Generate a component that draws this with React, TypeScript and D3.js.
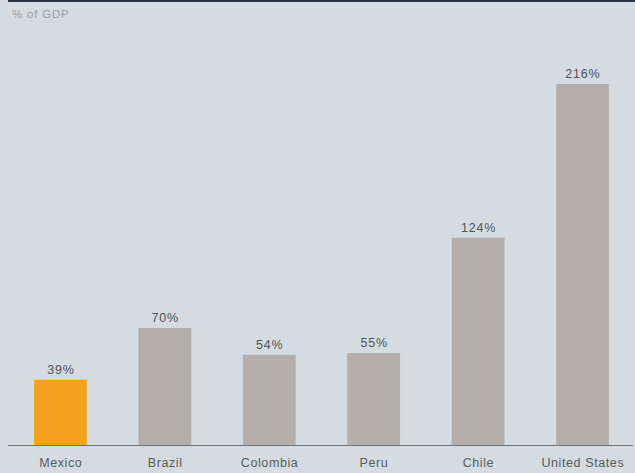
import React from "react";
import * as d3 from "d3";

const categories = ["Mexico", "Brazil", "Colombia", "Peru", "Chile", "United States"];
const values = [39, 70, 54, 55, 124, 216];
const highlight = "Mexico";

const W = 635;
const H = 473;
const baseY = 445;

export default function App() {
  const x = d3.scaleBand<string>().domain(categories).range([8, 635]).paddingInner(0.495).paddingOuter(0.25);
  const y = d3.scaleLinear().domain([0, 216]).range([baseY, 84]);
  const font = "'Liberation Sans', Arial, sans-serif";
  return (
    <div style={{ position: "absolute", left: 0, top: 0 }}>
      <svg width={W} height={H} style={{ display: "block" }}>
        <rect x={0} y={0} width={W} height={H} fill="#d4dbe1" />
        <rect x={8} y={0} width={W - 8} height={2} fill="#2b3640" />
        <text x={12} y={18} fontFamily={font} fontSize={11.5} letterSpacing={0.8} fill="#9aa0a6">% of GDP</text>
        {categories.map((c, i) => {
          const v = values[i];
          const bx = x(c)!;
          const bw = x.bandwidth();
          return (
            <g key={c}>
              <rect x={bx} y={y(v)} width={bw} height={baseY - y(v)} fill={c === highlight ? "#f4a21e" : "#b3aeab"} />
              <text x={bx + bw / 2 + 0.4} y={y(v) - 6} textAnchor="middle" fontFamily={font} fontSize={12.5} letterSpacing={0.8} fill="#4f545a">{v}%</text>
              <text x={bx + bw / 2 + 0.3} y={467} textAnchor="middle" fontFamily={font} fontSize={12.5} letterSpacing={0.6} fill="#565b61">{c}</text>
            </g>
          );
        })}
        <line x1={8} x2={633} y1={baseY + 0.5} y2={baseY + 0.5} stroke="#707478" strokeWidth={1} />
      </svg>
    </div>
  );
}
